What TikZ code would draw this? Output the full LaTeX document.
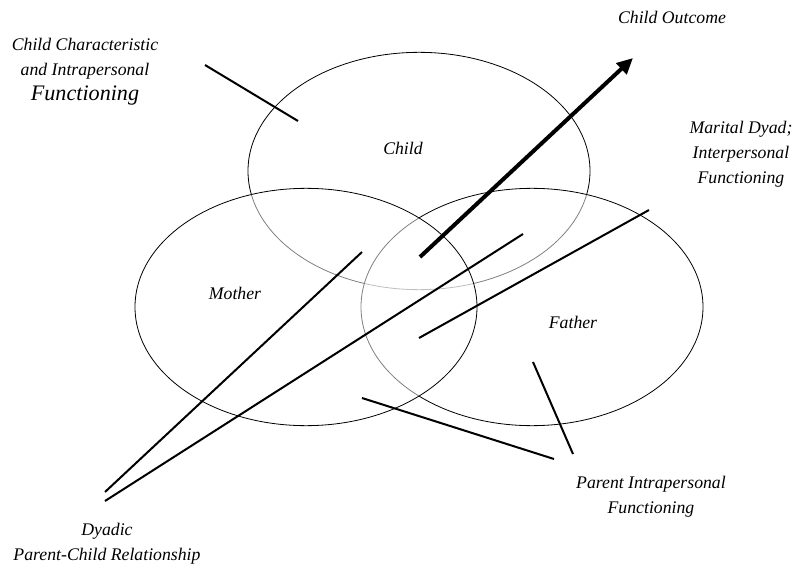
\documentclass[tikz,border=0pt]{standalone}
\usepackage{fontspec}
\setmainfont{Liberation Serif}
\usetikzlibrary{shapes.geometric,arrows.meta}
\tikzset{
  setring/.style={shape=ellipse,draw,line width=0.6pt,fill=white,fill opacity=0.5,text opacity=1,inner sep=0pt,minimum width=256.5pt,minimum height=178pt},
  pointer/.style={line width=1.5pt},
  outcome/.style={line width=3pt,-{Triangle[length=12pt,width=11pt]}},
  lbl/.style={font=\itshape\fontsize{13.3}{18.75}\selectfont,align=center}
}
\begin{document}
\begin{tikzpicture}[x=0.75pt,y=-0.75pt]
\useasboundingbox (0,0) rectangle (797,567);
\node(childset) [setring] at (419,171) {};
\node(fatherset) [setring] at (532,307) {};
\node(motherset) [setring] at (306,307) {};
\node(child) [lbl] at (403,148) {Child};
\node(mother) [lbl] at (235,293) {Mother};
\node(father) [lbl] at (573,322) {Father};
\node(characteristic) [lbl] at (85,72) {Child Characteristic\\and Intrapersonal\\{\fontsize{16.6}{20}\selectfont Functioning}};
\node(outcome) [lbl] at (672,17) {Child Outcome};
\node(marital) [lbl] at (741,154) {Marital Dyad;\\Interpersonal\\Functioning};
\node(parental) [lbl] at (651,497) {Parent Intrapersonal\\Functioning};
\node(dyadic) [lbl] at (107,544) {Dyadic\\Parent-Child Relationship};
% pointer ends
\coordinate(charA) at (205,65);
\coordinate(charB) at (298,121);
\coordinate(outA) at (420,257);
\coordinate(outB) at (633,58);
\coordinate(dyA) at (105,492);
\coordinate(dyB) at (362,252);
\coordinate(dyC) at (105,501);
\coordinate(dyD) at (523,234);
\coordinate(marA) at (419,338);
\coordinate(marB) at (649,210);
\coordinate(parA) at (362,398);
\coordinate(parB) at (554,459);
\coordinate(parC) at (533,362);
\coordinate(parD) at (573,454);
\draw [pointer] (charA) -- (charB);
\draw [outcome] (outA) -- (outB);
\draw [pointer] (dyA) -- (dyB);
\draw [pointer] (dyC) -- (dyD);
\draw [pointer] (marA) -- (marB);
\draw [pointer] (parA) -- (parB);
\draw [pointer] (parC) -- (parD);
\end{tikzpicture}
\end{document}
